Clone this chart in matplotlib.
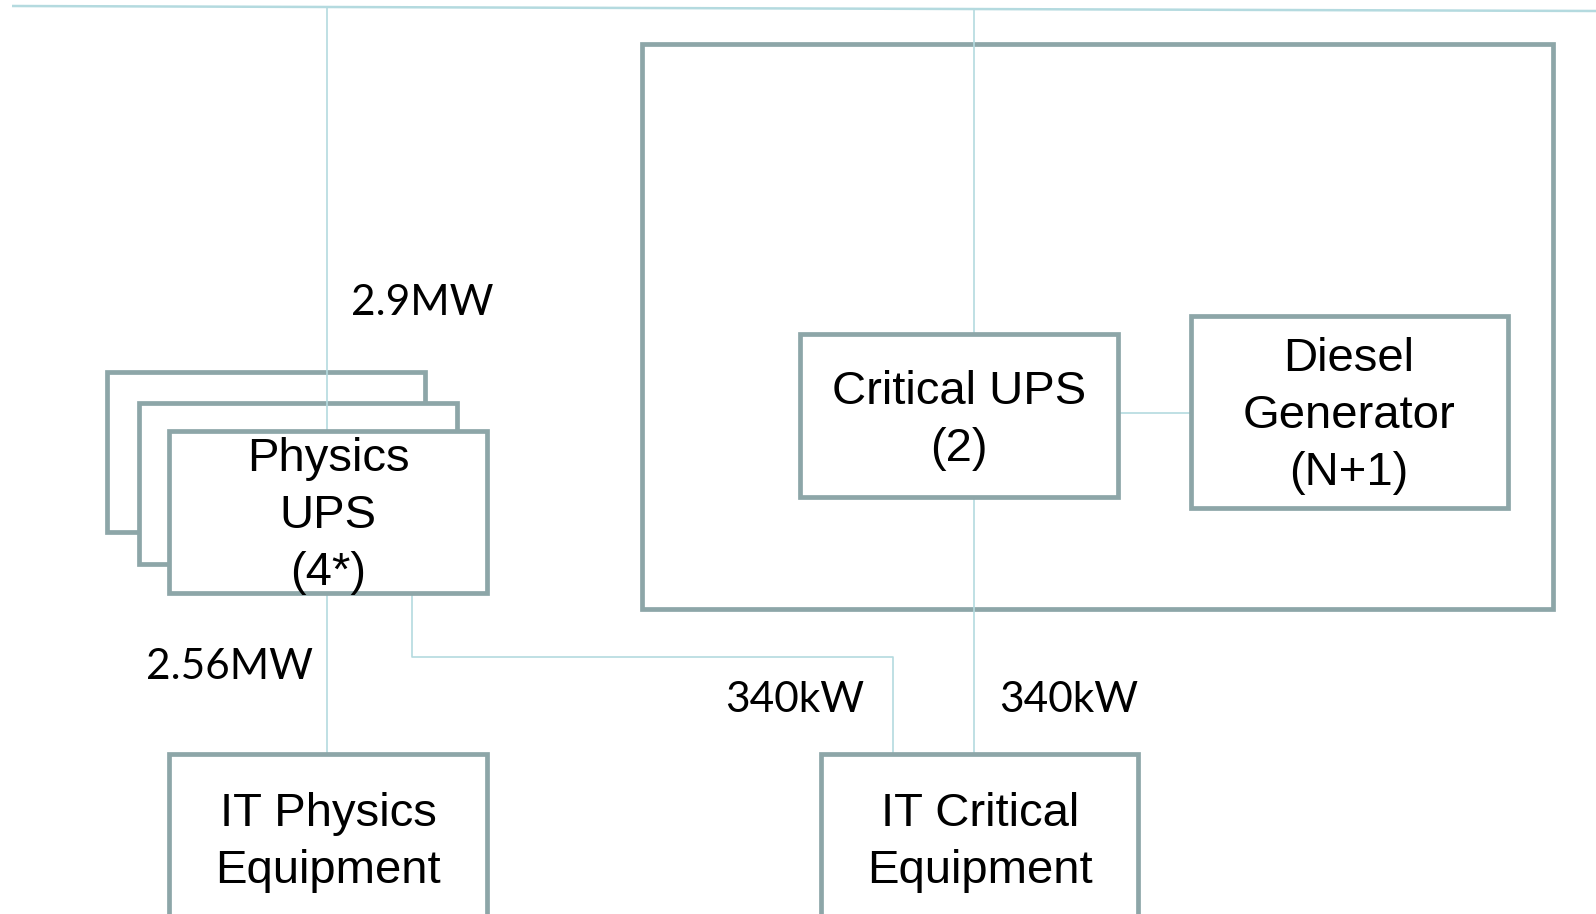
import matplotlib
matplotlib.use("Agg")
import matplotlib.pyplot as plt
from matplotlib.patches import Rectangle

# ---- content ----
physics_ups_lines = ["Physics", "UPS", "(4*)"]
critical_ups_lines = ["Critical UPS", "(2)"]
diesel_lines = ["Diesel", "Generator", "(N+1)"]
it_physics_lines = ["IT Physics", "Equipment"]
it_critical_lines = ["IT Critical", "Equipment"]
power_labels = ["2.9MW", "2.56MW", "340kW", "340kW"]

# ---- layout (pixel coordinates, y downward) ----
W, H = 1596, 914
BORDER = "#8DA6A8"
LINK = "#B4DADF"
BOX_LW = 3.4
LINK_LW = 1.2
BOX_FONT = dict(family=["Liberation Sans", "DejaVu Sans"], fontsize=34, color="black")
NUM_FONT = dict(family=["Lato", "DejaVu Sans"], fontsize=30.5, color="black")

fig = plt.figure(figsize=(W / 100, H / 100), dpi=100)
ax = fig.add_axes([0, 0, 1, 1])
ax.set_xlim(0, W)
ax.set_ylim(H, 0)
ax.axis("off")


def box(x0, y0, x1, y1, z, fill=True):
    ax.add_patch(Rectangle((x0, y0), x1 - x0, y1 - y0, facecolor="white" if fill else "none",
                           edgecolor=BORDER, lw=BOX_LW, zorder=z, joinstyle="miter"))


def link(xs, ys, z=3, lw=LINK_LW):
    ax.plot(xs, ys, color=LINK, lw=lw, zorder=z, solid_capstyle="butt")


def lines_text(cx, baselines, labels, z=10, **kw):
    for b, t in zip(baselines, labels):
        ax.text(cx, b, t, ha="center", va="baseline", zorder=z, **kw)


# big enclosure (no fill)
box(642, 44, 1553, 609, 1, fill=False)

# stacked physics UPS back boxes
box(107, 372, 425, 532, 2)
box(139, 403, 457, 564, 2.5)

# top bus line
link([12, 1596], [6, 11], z=3, lw=1.8)
# physics vertical
link([327, 327], [7, 754], z=3)
# critical vertical
link([974, 974], [9, 754], z=3)
# physics UPS -> IT critical
link([412, 412, 893, 893], [593, 657, 657, 754], z=3)
# critical UPS -> diesel
link([1118, 1191], [413, 413], z=3)

# front boxes
box(169, 431, 487, 593, 5)
box(800, 334, 1118, 497, 5)
box(1191, 316, 1508, 508, 5)
box(169, 754, 487, 940, 5)
box(821, 754, 1138, 940, 5)

# box texts
lines_text(328, [471, 528, 585], physics_ups_lines, **BOX_FONT)
lines_text(959, [404, 461], critical_ups_lines, **BOX_FONT)
lines_text(1349, [371, 428, 485], diesel_lines, **BOX_FONT)
lines_text(328, [826, 883], it_physics_lines, **BOX_FONT)
lines_text(980, [826, 883], it_critical_lines, **BOX_FONT)

# power labels
label_pos = [(351, 315), (146, 679), (725, 712), (999, 712)]
for (x, y), t in zip(label_pos, power_labels):
    ax.text(x, y, t, ha="left", va="baseline", zorder=10, **NUM_FONT)

fig.savefig("out.png", dpi=100, facecolor="white")
